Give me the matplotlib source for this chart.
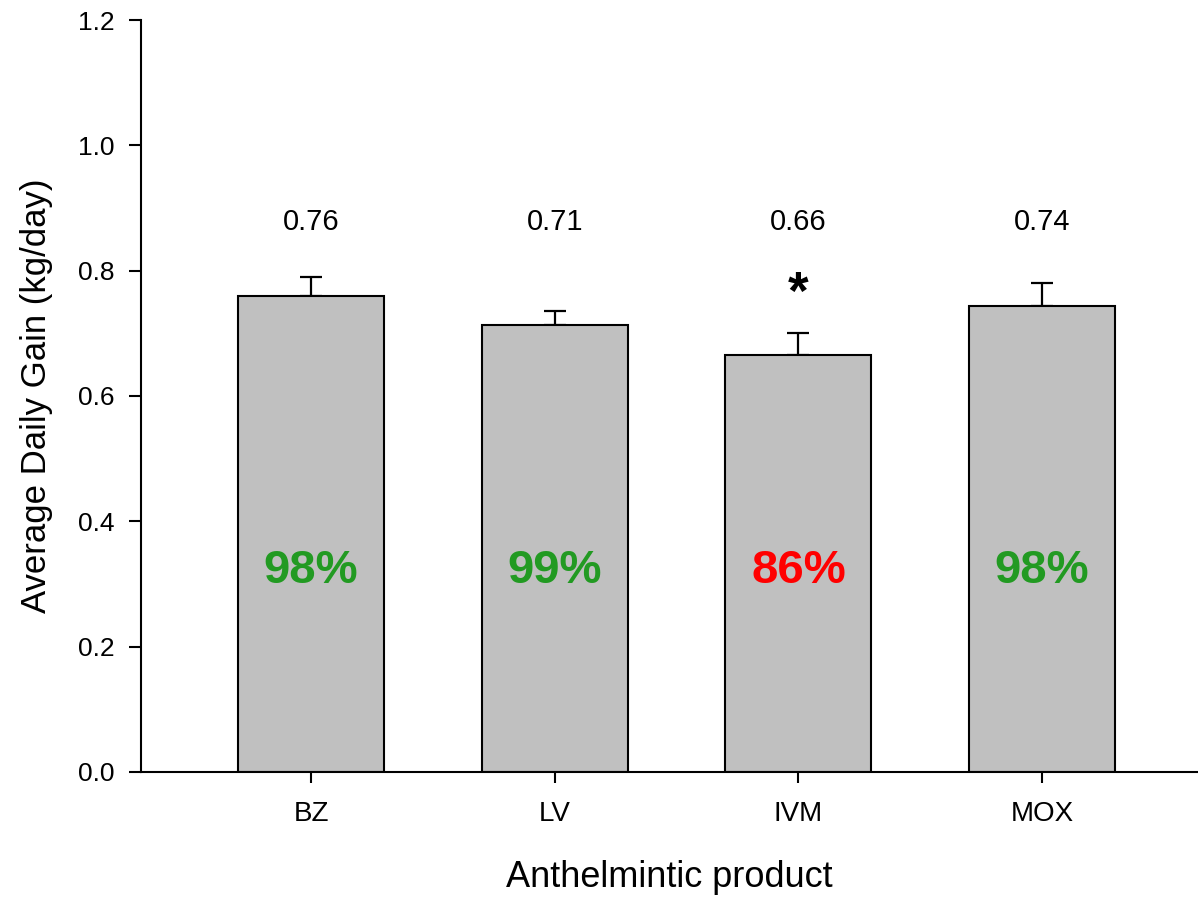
import matplotlib.pyplot as plt
import numpy as np

plt.rcParams['font.family'] = ['Liberation Sans', 'DejaVu Sans']

# data
products = ['BZ', 'LV', 'IVM', 'MOX']
adg = [0.76, 0.713, 0.665, 0.743]
adg_err = [0.03, 0.022, 0.036, 0.037]
adg_labels = ['0.76', '0.71', '0.66', '0.74']
efficacy = ['98%', '99%', '86%', '98%']
efficacy_colors = ['#229a22', '#229a22', '#ff0000', '#229a22']
signif = ['', '', '*', '']

fig = plt.figure(figsize=(11.98, 8.97), dpi=100)
ax = fig.add_axes([0.1177, 0.1394, 0.8823, 0.8383])

x = np.arange(len(products))
ax.bar(x, adg, width=0.6, color='#c0c0c0', edgecolor='black', linewidth=1.5, zorder=2)
ax.errorbar(x, adg, yerr=[np.zeros(len(adg)), adg_err], fmt='none', ecolor='black',
            elinewidth=1.6, capsize=8, capthick=1.6, zorder=1)

for i in range(len(products)):
    ax.text(x[i], 0.877, adg_labels[i], ha='center', va='center', fontsize=21)
    ax.text(x[i], 0.32, efficacy[i], ha='center', va='center', fontsize=34,
            fontweight='bold', color=efficacy_colors[i])
    if signif[i]:
        ax.text(x[i], 0.762, signif[i], ha='center', va='center', fontsize=38,
                fontweight='bold')

ax.set_xlim(-0.698, 3.64)
ax.set_ylim(0, 1.2)
ax.set_yticks(np.arange(0, 1.21, 0.2))
ax.set_yticklabels([f'{v:.1f}' for v in np.arange(0, 1.21, 0.2)])
ax.set_xticks(x)
ax.set_xticklabels(products)

for s in ['top', 'right']:
    ax.spines[s].set_visible(False)
for s in ['left', 'bottom']:
    ax.spines[s].set_linewidth(1.5)

ax.tick_params(axis='y', direction='out', length=9, width=1.5, pad=10, labelsize=19)
ax.tick_params(axis='x', direction='out', length=8, width=1.5, pad=13, labelsize=20)

ax.set_xlabel('Anthelmintic product', fontsize=26, labelpad=24)
ax.set_ylabel('Average Daily Gain (kg/day)', fontsize=25, labelpad=18)

fig.savefig('out.png', dpi=100)
